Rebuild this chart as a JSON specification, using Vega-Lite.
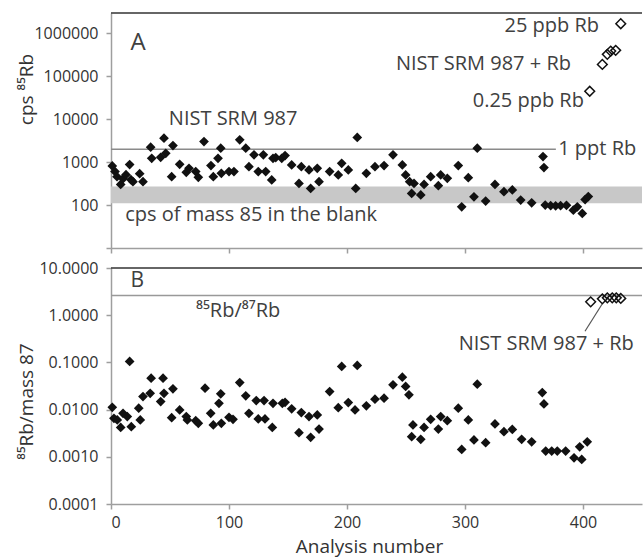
{
  "$schema": "https://vega.github.io/schema/vega-lite/v6.json",
  "padding": {"left": 16, "top": 12, "right": 0, "bottom": 4},
  "bounds": "flush",
  "spacing": 20,
  "config": {
    "view": {"stroke": null},
    "axis": {"grid": false, "domainColor": "#9e9e9e", "tickColor": "#9e9e9e", "domainWidth": 1.5, "tickWidth": 1.5, "tickSize": 5,
      "labelFont": "Open Sans", "titleFont": "Open Sans", "labelColor": "#333333", "titleColor": "#333333",
      "labelFontSize": 16, "titleFontSize": 19, "titleFontWeight": "normal"},
    "text": {"font": "Open Sans", "color": "#404040", "fontSize": 20}
  },
  "datasets": {
    "one": [{"id": 1}],
    "cpsFilled": [
      {"x": 1.1, "cps": 819}, {"x": 3.4, "cps": 603}, {"x": 5.1, "cps": 460}, {"x": 8.2, "cps": 304}, {"x": 10.2, "cps": 413},
      {"x": 12.7, "cps": 513}, {"x": 15.8, "cps": 879}, {"x": 16.9, "cps": 391}, {"x": 18.6, "cps": 351}, {"x": 24.3, "cps": 541},
      {"x": 27.1, "cps": 351}, {"x": 33.6, "cps": 2236}, {"x": 34.5, "cps": 1234}, {"x": 42.1, "cps": 1303}, {"x": 44.9, "cps": 3630},
      {"x": 46.4, "cps": 1615}, {"x": 52.5, "cps": 2447}, {"x": 51.4, "cps": 460}, {"x": 58.2, "cps": 893}, {"x": 63.8, "cps": 580},
      {"x": 66.1, "cps": 720}, {"x": 71.8, "cps": 603}, {"x": 74.0, "cps": 443}, {"x": 78.8, "cps": 3034}, {"x": 84.7, "cps": 832},
      {"x": 86.7, "cps": 460}, {"x": 90.7, "cps": 1234}, {"x": 93.0, "cps": 2116}, {"x": 93.5, "cps": 550}, {"x": 100.0, "cps": 603},
      {"x": 104.2, "cps": 603}, {"x": 109.1, "cps": 3327}, {"x": 114.2, "cps": 2116}, {"x": 116.9, "cps": 788}, {"x": 121.2, "cps": 1482},
      {"x": 124.8, "cps": 603}, {"x": 129.1, "cps": 1482}, {"x": 131.1, "cps": 603}, {"x": 136.2, "cps": 385}, {"x": 137.3, "cps": 1234},
      {"x": 139.6, "cps": 1282}, {"x": 144.7, "cps": 1234}, {"x": 147.5, "cps": 1428}, {"x": 153.1, "cps": 865}, {"x": 159.3, "cps": 320},
      {"x": 161.3, "cps": 788}, {"x": 167.8, "cps": 661}, {"x": 169.2, "cps": 245}, {"x": 174.8, "cps": 720}, {"x": 176.3, "cps": 351},
      {"x": 185.3, "cps": 603}, {"x": 192.6, "cps": 504}, {"x": 195.5, "cps": 942}, {"x": 201.1, "cps": 661}, {"x": 207.4, "cps": 245},
      {"x": 208.7, "cps": 3767}, {"x": 216.4, "cps": 550}, {"x": 223.7, "cps": 788}, {"x": 231.4, "cps": 832}, {"x": 239.0, "cps": 1482},
      {"x": 246.9, "cps": 865}, {"x": 249.7, "cps": 504}, {"x": 253.1, "cps": 351}, {"x": 256.8, "cps": 320}, {"x": 254.8, "cps": 187},
      {"x": 262.5, "cps": 172}, {"x": 265.3, "cps": 304}, {"x": 270.9, "cps": 460}, {"x": 277.4, "cps": 283}, {"x": 279.4, "cps": 504},
      {"x": 285.0, "cps": 420}, {"x": 294.3, "cps": 832}, {"x": 297.2, "cps": 91}, {"x": 302.8, "cps": 436}, {"x": 307.6, "cps": 156},
      {"x": 310.4, "cps": 2116}, {"x": 317.5, "cps": 124}, {"x": 325.4, "cps": 304}, {"x": 333.0, "cps": 205}, {"x": 340.1, "cps": 225},
      {"x": 347.2, "cps": 131}, {"x": 356.5, "cps": 113}, {"x": 366.1, "cps": 1353}, {"x": 366.9, "cps": 748}, {"x": 368.0, "cps": 100},
      {"x": 372.6, "cps": 97}, {"x": 376.8, "cps": 96}, {"x": 381.0, "cps": 97}, {"x": 386.0, "cps": 99}, {"x": 391.8, "cps": 76},
      {"x": 395.2, "cps": 91}, {"x": 399.4, "cps": 64}, {"x": 401.8, "cps": 135}, {"x": 404.5, "cps": 158}
    ],
    "cpsOpen": [
      {"x": 405.7, "cps": 45000}, {"x": 416.4, "cps": 190000}, {"x": 420.6, "cps": 326000},
      {"x": 423.5, "cps": 389000}, {"x": 427.7, "cps": 404000}, {"x": 432.0, "cps": 1690000}
    ],
    "ratioFilled": [
      {"x": 1.1, "ratio": 0.0112}, {"x": 2.5, "ratio": 0.00653}, {"x": 5.3, "ratio": 0.00604}, {"x": 8.2, "ratio": 0.0042}, {"x": 10.2, "ratio": 0.00834},
      {"x": 13.8, "ratio": 0.0071}, {"x": 15.8, "ratio": 0.105}, {"x": 17.2, "ratio": 0.00435}, {"x": 24.8, "ratio": 0.00604}, {"x": 23.5, "ratio": 0.0107},
      {"x": 27.1, "ratio": 0.0189}, {"x": 33.2, "ratio": 0.0222}, {"x": 34.0, "ratio": 0.0463}, {"x": 42.1, "ratio": 0.0148}, {"x": 44.1, "ratio": 0.0463},
      {"x": 44.9, "ratio": 0.0222}, {"x": 52.5, "ratio": 0.0276}, {"x": 51.4, "ratio": 0.00676}, {"x": 58.2, "ratio": 0.00986}, {"x": 63.8, "ratio": 0.0071},
      {"x": 64.7, "ratio": 0.00604}, {"x": 71.8, "ratio": 0.00583}, {"x": 74.0, "ratio": 0.00511}, {"x": 79.7, "ratio": 0.0284}, {"x": 84.5, "ratio": 0.00834},
      {"x": 86.7, "ratio": 0.00472}, {"x": 91.5, "ratio": 0.0136}, {"x": 93.0, "ratio": 0.0216}, {"x": 93.5, "ratio": 0.00511}, {"x": 100.0, "ratio": 0.00686},
      {"x": 103.4, "ratio": 0.00622}, {"x": 109.1, "ratio": 0.0375}, {"x": 114.2, "ratio": 0.0196}, {"x": 116.9, "ratio": 0.00834}, {"x": 123.1, "ratio": 0.0155},
      {"x": 124.8, "ratio": 0.00634}, {"x": 129.7, "ratio": 0.0155}, {"x": 130.5, "ratio": 0.00634}, {"x": 136.7, "ratio": 0.0042}, {"x": 137.3, "ratio": 0.0136},
      {"x": 145.2, "ratio": 0.0136}, {"x": 147.5, "ratio": 0.0143}, {"x": 153.1, "ratio": 0.0104}, {"x": 159.3, "ratio": 0.00324}, {"x": 161.3, "ratio": 0.00863},
      {"x": 167.8, "ratio": 0.0071}, {"x": 169.2, "ratio": 0.00258}, {"x": 174.8, "ratio": 0.00771}, {"x": 176.3, "ratio": 0.00388}, {"x": 185.3, "ratio": 0.0241},
      {"x": 192.6, "ratio": 0.011}, {"x": 195.5, "ratio": 0.0822}, {"x": 201.1, "ratio": 0.0141}, {"x": 206.8, "ratio": 0.00986}, {"x": 208.7, "ratio": 0.0863},
      {"x": 216.4, "ratio": 0.012}, {"x": 223.7, "ratio": 0.0166}, {"x": 231.4, "ratio": 0.0174}, {"x": 239.0, "ratio": 0.0335}, {"x": 246.9, "ratio": 0.0486},
      {"x": 249.7, "ratio": 0.0309}, {"x": 252.5, "ratio": 0.0206}, {"x": 255.9, "ratio": 0.00472}, {"x": 254.8, "ratio": 0.00267}, {"x": 262.5, "ratio": 0.00234},
      {"x": 265.3, "ratio": 0.0042}, {"x": 270.9, "ratio": 0.00622}, {"x": 277.4, "ratio": 0.00388}, {"x": 279.4, "ratio": 0.0071}, {"x": 285.0, "ratio": 0.00583},
      {"x": 294.3, "ratio": 0.0107}, {"x": 297.2, "ratio": 0.00143}, {"x": 302.8, "ratio": 0.00604}, {"x": 307.6, "ratio": 0.00227}, {"x": 310.4, "ratio": 0.0345},
      {"x": 317.5, "ratio": 0.00199}, {"x": 325.4, "ratio": 0.00497}, {"x": 333.0, "ratio": 0.0034}, {"x": 340.1, "ratio": 0.00381}, {"x": 348.0, "ratio": 0.00234},
      {"x": 356.5, "ratio": 0.00208}, {"x": 365.5, "ratio": 0.023}, {"x": 366.9, "ratio": 0.0132}, {"x": 368.4, "ratio": 0.00132}, {"x": 373.5, "ratio": 0.00132},
      {"x": 378.2, "ratio": 0.00132}, {"x": 385.3, "ratio": 0.00132}, {"x": 392.4, "ratio": 0.000952}, {"x": 397.2, "ratio": 0.00163}, {"x": 398.9, "ratio": 0.000877},
      {"x": 403.6, "ratio": 0.00208}
    ],
    "ratioOpen": [
      {"x": 406.5, "ratio": 1.92}, {"x": 416.4, "ratio": 2.22}, {"x": 420.6, "ratio": 2.33},
      {"x": 424.8, "ratio": 2.33}, {"x": 428.2, "ratio": 2.33}, {"x": 432.0, "ratio": 2.27}
    ]
  },
  "vconcat": [
    {
      "width": 531,
      "height": 235,
      "layer": [
        {
          "data": {"name": "one"},
          "mark": {"type": "rect", "color": "#c8c8c8"},
          "encoding": {
            "x": {"datum": 0, "type": "quantitative", "scale": {"domain": [0, 450], "nice": false, "zero": false},
              "axis": {"values": [0, 100, 200, 300, 400], "labels": false, "title": null}},
            "x2": {"datum": 450},
            "y": {"datum": 110, "type": "quantitative",
              "scale": {"type": "log", "domain": [10, 3000000], "nice": false},
              "axis": {"values": [10, 100, 1000, 10000, 100000, 1000000], "labelExpr": "datum.value == 10 ? '' : format(datum.value, 'd')",
                "labelPadding": 8, "title": "cps \u2078\u2075Rb", "titleX": -79, "titleY": 76, "titleBaseline": "alphabetic", "titleAngle": -90}},
            "y2": {"datum": 270}
          }
        },
        {
          "data": {"name": "one"},
          "mark": {"type": "rule", "color": "#8a8a8a", "strokeWidth": 1.5},
          "encoding": {"x": {"datum": 0}, "x2": {"datum": 377}, "y": {"datum": 2000}}
        },
        {
          "data": {"name": "one"},
          "mark": {"type": "rule", "color": "#333333", "strokeWidth": 1.5},
          "encoding": {"x": {"datum": 0}, "x2": {"datum": 450}, "y": {"datum": 3000000}}
        },
        {
          "data": {"name": "cpsFilled"},
          "mark": {"type": "point", "shape": "diamond", "filled": true, "color": "#111111", "size": 95, "opacity": 1},
          "encoding": {"x": {"field": "x", "type": "quantitative"}, "y": {"field": "cps", "type": "quantitative"}}
        },
        {
          "data": {"name": "cpsOpen"},
          "mark": {"type": "point", "shape": "diamond", "filled": false, "color": "#111111", "size": 95, "strokeWidth": 1.5, "opacity": 1},
          "encoding": {"x": {"field": "x", "type": "quantitative"}, "y": {"field": "cps", "type": "quantitative"}}
        },
        {
          "data": {"name": "one"},
          "mark": {"type": "text", "align": "left", "baseline": "middle", "fontSize": 24},
          "encoding": {"x": {"datum": 16.5}, "y": {"datum": 600000}, "text": {"value": "A"}}
        },
        {
          "data": {"name": "one"},
          "mark": {"type": "text", "align": "left", "baseline": "middle"},
          "encoding": {"x": {"datum": 49}, "y": {"datum": 10000}, "text": {"value": "NIST SRM 987"}}
        },
        {
          "data": {"name": "one"},
          "mark": {"type": "text", "align": "left", "baseline": "middle"},
          "encoding": {"x": {"datum": 379}, "y": {"datum": 2000}, "text": {"value": "1 ppt Rb"}}
        },
        {
          "data": {"name": "one"},
          "mark": {"type": "text", "align": "left", "baseline": "middle"},
          "encoding": {"x": {"datum": 12}, "y": {"datum": 58}, "text": {"value": "cps of mass 85 in the blank"}}
        },
        {
          "data": {"name": "one"},
          "mark": {"type": "text", "align": "right", "baseline": "middle"},
          "encoding": {"x": {"datum": 413.6}, "y": {"datum": 1500000}, "text": {"value": "25 ppb Rb"}}
        },
        {
          "data": {"name": "one"},
          "mark": {"type": "text", "align": "right", "baseline": "middle"},
          "encoding": {"x": {"datum": 389.8}, "y": {"datum": 190000}, "text": {"value": "NIST SRM 987 + Rb"}}
        },
        {
          "data": {"name": "one"},
          "mark": {"type": "text", "align": "right", "baseline": "middle"},
          "encoding": {"x": {"datum": 400.8}, "y": {"datum": 26200}, "text": {"value": "0.25 ppb Rb"}}
        }
      ]
    },
    {
      "width": 531,
      "height": 236,
      "layer": [
        {
          "data": {"name": "one"},
          "mark": {"type": "rule", "color": "#999999", "strokeWidth": 1.5},
          "encoding": {
            "x": {"datum": 0, "type": "quantitative", "scale": {"domain": [0, 450], "nice": false, "zero": false},
              "axis": {"values": [0, 100, 200, 300, 400], "labelPadding": 5, "title": "Analysis number", "titleFontSize": 19, "titleX": 258, "titleY": 48, "titleBaseline": "alphabetic"}},
            "x2": {"datum": 450},
            "y": {"datum": 2.6, "type": "quantitative",
              "scale": {"type": "log", "domain": [0.0001, 10], "nice": false},
              "axis": {"values": [0.0001, 0.001, 0.01, 0.1, 1, 10], "format": ".4f",
                "labelPadding": 8, "title": "\u2078\u2075Rb/mass 87", "titleX": -79, "titleY": 133, "titleBaseline": "alphabetic", "titleAngle": -90}}
          }
        },
        {
          "data": {"name": "one"},
          "mark": {"type": "rule", "color": "#333333", "strokeWidth": 1.5},
          "encoding": {"x": {"datum": 0}, "x2": {"datum": 450}, "y": {"datum": 10}}
        },
        {
          "data": {"name": "one"},
          "mark": {"type": "rule", "color": "#555555", "strokeWidth": 1.2},
          "encoding": {"x": {"datum": 401.7}, "y": {"datum": 0.457}, "x2": {"datum": 416.1}, "y2": {"datum": 1.71}}
        },
        {
          "data": {"name": "ratioFilled"},
          "mark": {"type": "point", "shape": "diamond", "filled": true, "color": "#111111", "size": 95, "opacity": 1},
          "encoding": {"x": {"field": "x", "type": "quantitative"}, "y": {"field": "ratio", "type": "quantitative"}}
        },
        {
          "data": {"name": "ratioOpen"},
          "mark": {"type": "point", "shape": "diamond", "filled": false, "color": "#111111", "size": 95, "strokeWidth": 1.5, "opacity": 1},
          "encoding": {"x": {"field": "x", "type": "quantitative"}, "y": {"field": "ratio", "type": "quantitative"}}
        },
        {
          "data": {"name": "one"},
          "mark": {"type": "text", "align": "left", "baseline": "middle", "fontSize": 21},
          "encoding": {"x": {"datum": 16.5}, "y": {"datum": 5.3}, "text": {"value": "B"}}
        },
        {
          "data": {"name": "one"},
          "mark": {"type": "text", "align": "left", "baseline": "middle"},
          "encoding": {"x": {"datum": 72}, "y": {"datum": 1.2}, "text": {"value": "\u2078\u2075Rb/\u2078\u2077Rb"}}
        },
        {
          "data": {"name": "one"},
          "mark": {"type": "text", "align": "right", "baseline": "middle"},
          "encoding": {"x": {"datum": 443}, "y": {"datum": 0.24}, "text": {"value": "NIST SRM 987 + Rb"}}
        }
      ]
    }
  ]
}
